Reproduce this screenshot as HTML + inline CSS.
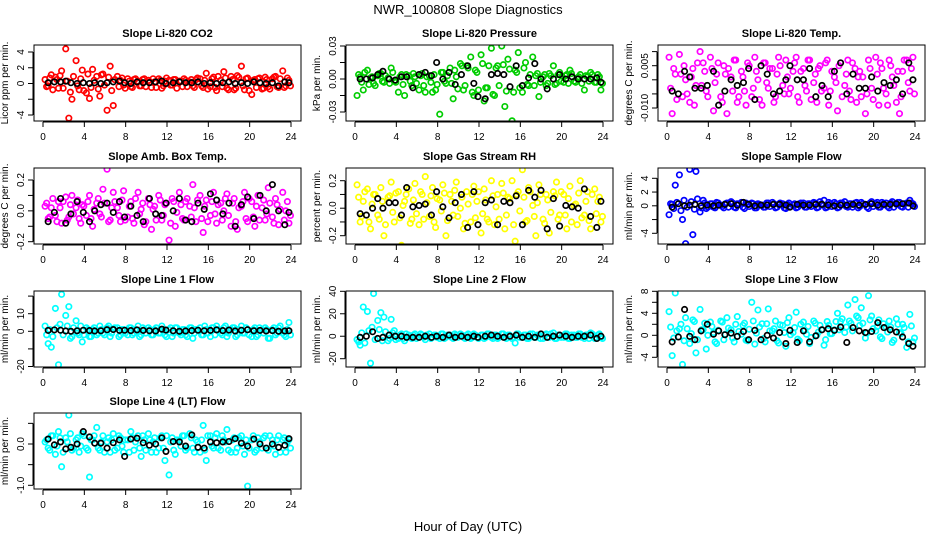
<!DOCTYPE html>
<html><head><meta charset="utf-8"><style>
body{margin:0;background:#fff}
svg{display:block;font-family:"Liberation Sans",sans-serif}
</style></head><body>
<svg id="chart" width="936" height="540" viewBox="0 0 936 540">
<text x="468" y="14" text-anchor="middle" font-size="13">NWR_100808  Slope Diagnostics</text>
<text x="468" y="531" text-anchor="middle" font-size="13">Hour of Day (UTC)</text>
</svg>
<script>
const xTicks = [0,4,8,12,16,20,24];
const colorTimes = [0.2,0.5,0.8,1.2,1.5,1.8,2.2,2.5,2.8,3.2,3.5,3.8,4.2,4.5,4.8,5.2,5.5,5.8,6.2,6.5,6.8,7.2,7.5,7.8,8.2,8.5,8.8,9.2,9.5,9.8,10.2,10.5,10.8,11.2,11.5,11.8,12.2,12.5,12.8,13.2,13.5,13.8,14.2,14.5,14.8,15.2,15.5,15.8,16.2,16.5,16.8,17.2,17.5,17.8,18.2,18.5,18.8,19.2,19.5,19.8,20.2,20.5,20.8,21.2,21.5,21.8,22.2,22.5,22.8,23.2,23.5,23.8];
const bandTimes = [0.35,0.65,0.95,1.35,1.65,1.95,2.35,2.65,2.95,3.35,3.65,3.95,4.35,4.65,4.95,5.35,5.65,5.95,6.35,6.65,6.95,7.35,7.65,7.95,8.35,8.65,8.95,9.35,9.65,9.95,10.35,10.65,10.95,11.35,11.65,11.95,12.35,12.65,12.95,13.35,13.65,13.95,14.35,14.65,14.95,15.35,15.65,15.95,16.35,16.65,16.95,17.35,17.65,17.95,18.35,18.65,18.95,19.35,19.65,19.95,20.35,20.65,20.95,21.35,21.65,21.95,22.35,22.65,22.95,23.35,23.65,23.95];
const blackTimes = [0.5,1.1,1.7,2.2,2.7,3.3,3.9,4.5,5.0,5.6,6.2,6.8,7.4,7.9,8.5,9.1,9.7,10.3,10.9,11.5,11.9,12.6,13.2,13.8,14.4,15.0,15.6,16.2,16.8,17.4,18.0,18.6,19.2,19.8,20.4,21.0,21.6,22.2,22.8,23.4,23.8];

const co2Vals = [0.5,-0.3,1.1,0.8,-0.6,1.6,4.4,-4.4,-2.0,2.9,-0.8,1.7,-1.2,-1.9,1.8,0.9,-1.6,1.2,-3.4,2.2,-2.8,0.9,0.4,-0.2,0.6,-0.4,0.5,0.3,-0.3,0.6,0.4,-0.5,0.2,0.6,-0.6,0.3,0.4,-0.2,0.5,0.3,-0.4,0.4,0.2,-0.3,0.5,0.6,-0.5,1.3,-0.4,0.8,-0.9,0.4,1.5,-0.6,0.9,-0.8,1.0,2.2,-0.8,0.7,-1.4,0.5,0.6,-0.7,0.8,-0.4,0.6,0.9,-0.5,1.6,-0.3,0.4];
const co2Band = [-0.4,0.7,-0.8,0.5,1.0,-0.6,0.3,-1.1,0.9,-0.3,0.6,-0.9,1.2,-0.5,0.4,-0.7,1.1,-0.2,0.8,-0.9,0.5,-0.4,0.7,-0.6,0.3,-0.5,0.6,-0.3,0.5,-0.4,0.2,0.6,-0.5,0.4,-0.3,0.7,-0.2,0.5,-0.6,0.3,0.6,-0.4,0.5,-0.5,0.7,-0.3,0.4,-0.7,0.6,-0.5,0.9,-0.4,0.7,-0.8,0.5,-0.6,0.8,-0.3,0.6,-0.9,0.4,-0.5,0.7,-0.6,0.5,-0.7,0.8,-0.4,0.6,-0.5,0.7,-0.3];
const co2Avg = [0.1,0.2,0.2,0.3,0.1,0.0,0.1,0.0,0.1,0.0,0.1,0.2,0.3,0.1,0.0,0.2,0.1,0.1,0.2,0.3,0.0,0.1,0.2,0.1,0.1,0.2,0.0,0.1,0.0,0.1,0.2,0.0,0.1,0.0,0.2,0.1,0.0,0.1,-0.3,0.2,0.1];
const presVals = [-0.015,0.002,-0.01,0.008,0.001,-0.004,0.003,0.005,-0.003,0.001,0.01,-0.002,-0.012,0.004,-0.015,0.003,-0.006,0.002,-0.01,0.005,-0.012,0.003,-0.012,-0.01,-0.032,0.006,-0.004,0.01,-0.018,0.002,0.014,-0.01,0.012,0.02,-0.015,0.006,0.022,-0.02,-0.008,0.028,-0.015,0.012,0.03,-0.025,0.018,-0.038,0.008,0.024,-0.012,0.015,-0.006,0.02,0.003,-0.016,0.002,-0.006,0.005,0.012,-0.004,0.006,-0.003,0.004,0.008,-0.002,0.001,0.004,-0.01,0.002,0.006,-0.003,0.004,-0.01];
const presBand = [0.004,-0.003,0.006,-0.005,0.002,-0.006,0.005,-0.002,0.003,-0.004,0.006,-0.003,0.002,-0.005,0.004,-0.002,0.005,-0.004,0.003,-0.006,0.002,-0.003,0.004,-0.005,0.006,-0.002,0.003,-0.004,0.008,-0.009,0.012,-0.006,0.01,-0.012,0.008,-0.01,0.014,-0.008,0.012,-0.014,0.01,-0.006,0.013,-0.011,0.009,-0.012,0.006,-0.008,0.01,-0.005,0.004,-0.006,0.005,-0.003,0.004,-0.004,0.003,-0.005,0.004,-0.002,0.003,-0.004,0.005,-0.003,0.002,-0.004,0.003,-0.002,0.004,-0.003,0.002,-0.004];
const presAvg = [0.0,0.0,0.001,0.004,0.007,0.0,-0.001,0.002,0.002,-0.008,0.004,0.006,0.003,0.015,0.0,0.006,-0.005,0.004,0.012,-0.004,-0.016,-0.018,0.004,0.005,0.004,-0.007,0.012,-0.006,0.001,0.014,0.0,-0.009,0.0,0.004,0.0,0.002,0.0,0.0,0.0,0.001,-0.003];
const tempVals = [0.008,-0.012,0.002,0.009,-0.006,0.0,-0.008,0.004,-0.002,0.01,0.006,-0.004,0.008,-0.011,0.002,-0.006,0.005,-0.012,0.001,0.007,-0.008,0.003,-0.004,0.006,-0.006,0.008,0.0,-0.009,0.006,-0.003,0.004,-0.006,0.008,-0.002,0.007,-0.005,0.003,0.008,-0.008,0.004,-0.004,0.007,-0.001,-0.008,0.005,-0.003,0.007,-0.004,0.001,-0.011,0.006,-0.002,0.007,-0.007,0.004,0.001,-0.006,-0.012,0.007,-0.003,0.008,-0.009,0.004,-0.005,0.007,0.001,-0.008,-0.012,0.003,0.007,-0.004,0.008];
const tempBand = [-0.003,0.004,-0.007,0.002,0.005,-0.005,0.001,-0.009,0.006,-0.002,0.003,-0.006,0.004,-0.001,0.006,-0.008,0.002,0.004,-0.004,0.007,-0.006,0.001,-0.009,0.005,-0.003,0.003,-0.007,0.006,-0.001,0.004,-0.008,0.002,0.005,-0.005,0.001,-0.003,0.006,-0.006,0.003,-0.002,0.007,-0.007,0.002,0.004,-0.004,0.006,-0.009,0.003,-0.001,0.005,-0.006,0.002,-0.004,0.006,-0.008,0.003,0.001,-0.005,0.004,-0.007,0.002,0.006,-0.003,-0.009,0.005,-0.002,0.003,-0.006,0.007,-0.001,0.004,-0.005];
const tempAvg = [-0.004,-0.005,0.003,0.001,-0.003,-0.003,-0.002,0.003,-0.009,-0.004,0.0,-0.002,-0.001,0.004,-0.007,0.005,0.002,-0.005,-0.004,0.0,0.005,0.0,0.0,0.004,-0.006,-0.002,-0.006,0.003,0.006,-0.005,0.002,-0.003,-0.003,0.001,-0.004,-0.001,-0.002,0.0,-0.005,0.006,0.0];
const ambVals = [0.03,-0.05,0.02,-0.03,0.06,-0.08,0.09,-0.04,0.1,0.02,-0.05,0.04,-0.03,0.1,-0.1,0.05,-0.02,0.14,0.27,-0.06,0.12,0.02,-0.07,0.13,-0.04,0.06,-0.08,0.12,0.01,-0.09,0.08,-0.12,0.03,0.1,-0.06,0.04,-0.19,0.08,-0.1,0.12,-0.05,0.06,0.03,0.17,-0.07,0.1,-0.14,0.07,-0.03,0.12,-0.08,0.05,0.0,0.11,-0.1,0.08,-0.12,0.03,0.12,-0.07,0.06,-0.1,0.1,0.02,-0.06,0.15,-0.04,0.08,-0.09,0.12,0.0,-0.08];
const ambBand = [0.05,-0.04,0.08,-0.07,0.02,0.06,-0.06,0.04,-0.02,0.07,-0.08,0.03,0.06,-0.05,0.01,0.08,-0.04,0.05,-0.07,0.02,0.06,-0.03,0.07,-0.06,0.03,-0.05,0.08,-0.02,0.05,-0.07,0.04,0.01,-0.06,0.07,-0.03,0.05,-0.08,0.06,-0.01,0.04,-0.06,0.08,-0.04,0.02,0.07,-0.05,0.03,-0.07,0.06,-0.02,0.04,-0.06,0.08,-0.03,0.05,-0.07,0.02,0.06,-0.05,0.08,-0.04,0.03,-0.06,0.07,-0.02,0.05,-0.08,0.04,0.01,-0.06,0.06,-0.03];
const ambAvg = [-0.07,-0.01,0.08,-0.08,-0.02,0.06,-0.01,-0.07,0.0,0.04,0.05,-0.01,0.06,-0.04,0.03,-0.03,-0.07,0.08,-0.02,-0.03,0.05,0.0,0.08,-0.06,-0.07,0.05,0.01,0.11,0.07,-0.02,0.05,-0.1,0.04,0.09,-0.05,0.1,0.0,0.17,0.0,-0.09,-0.01];
const rhVals = [0.17,-0.1,0.05,0.14,-0.15,0.1,-0.05,0.15,-0.2,0.08,0.19,-0.1,0.12,-0.27,0.05,0.14,-0.08,0.18,-0.12,0.1,0.23,-0.06,0.15,-0.14,0.06,0.17,-0.2,0.1,-0.05,0.19,0.0,-0.15,0.12,-0.1,0.16,0.05,-0.18,0.14,-0.08,0.2,-0.12,0.1,0.18,-0.15,0.08,0.2,-0.24,0.12,0.28,-0.1,0.15,0.02,-0.2,0.17,-0.08,0.1,-0.18,0.12,0.19,-0.05,0.1,-0.15,0.16,0.02,-0.12,0.2,-0.05,0.12,-0.15,0.14,0.05,-0.1];
const rhBand = [0.08,-0.06,0.12,-0.1,0.03,0.1,-0.08,0.05,-0.12,0.09,-0.03,0.11,-0.07,0.02,0.1,-0.11,0.06,-0.04,0.12,-0.08,0.04,0.09,-0.1,0.07,-0.02,0.11,-0.09,0.05,0.13,-0.06,0.08,-0.11,0.03,0.1,-0.07,0.12,-0.04,0.06,-0.1,0.09,0.01,-0.08,0.11,-0.05,0.07,-0.12,0.1,-0.02,0.08,-0.09,0.12,-0.06,0.04,0.1,-0.11,0.06,-0.03,0.09,-0.08,0.12,-0.05,0.07,-0.1,0.03,0.11,-0.07,0.05,-0.09,0.1,-0.04,0.08,-0.06];
const rhAvg = [-0.04,-0.05,0.0,0.07,0.0,0.04,0.04,-0.05,0.15,0.01,0.02,0.03,-0.05,0.12,0.01,-0.07,0.04,0.1,-0.14,0.12,-0.12,0.04,0.06,-0.12,0.05,0.04,0.09,-0.12,0.13,0.08,0.13,-0.15,0.07,-0.13,0.02,0.01,0.0,0.14,-0.06,-0.14,0.05];
const sampVals = [-1.3,0.2,3.0,4.5,-2.0,-5.5,5.3,-4.2,5.0,-0.9,0.8,-0.4,0.3,-0.2,0.5,0.1,-0.3,0.4,0.6,-0.2,0.3,0.5,-0.4,0.2,0.4,-0.3,0.3,0.1,-0.2,0.4,0.5,-0.3,0.2,0.3,-0.4,0.4,0.1,-0.3,0.3,0.4,-0.2,0.3,0.5,-0.3,0.6,0.8,-0.2,0.3,0.5,-0.3,0.4,0.6,-0.2,0.3,0.4,-0.3,0.5,0.2,-0.4,0.6,0.3,-0.2,0.5,0.4,-0.3,0.6,0.2,0.5,-0.2,0.4,0.8,0.3];
const sampBand = [0.3,-0.4,0.5,-0.7,0.8,-0.2,0.6,-0.5,1.0,-0.3,0.4,-0.2,0.3,-0.3,0.4,-0.1,0.3,-0.2,0.4,-0.3,0.2,-0.2,0.4,-0.1,0.3,-0.3,0.2,-0.2,0.4,-0.1,0.3,-0.2,0.4,-0.3,0.2,-0.1,0.3,-0.2,0.4,-0.2,0.3,-0.1,0.4,-0.2,0.3,-0.3,0.5,-0.1,0.3,-0.2,0.4,-0.1,0.3,-0.2,0.5,-0.1,0.3,-0.2,0.4,-0.1,0.5,-0.2,0.3,-0.1,0.4,-0.2,0.5,-0.1,0.3,-0.2,0.4,-0.1];
const sampAvg = [-0.2,0.3,0.0,0.1,0.2,0.0,0.1,0.0,0.1,0.2,0.3,0.1,0.5,0.2,0.0,0.1,0.1,0.2,0.2,0.1,-0.2,0.2,0.1,0.1,0.2,0.2,0.1,0.0,0.1,0.1,0.2,0.1,0.2,0.3,0.1,0.2,0.2,0.3,0.3,0.4,0.0];
const l1Vals = [3,-7,-9,13,-19,21,9,14,-3,6,-2,-6,2,-3,1,-2,3,-1,2,-3,1,2,-2,1,-2,2,-1,3,-2,1,2,-2,1,-1,3,-2,1,-3,2,-1,1,-2,2,-4,1,2,-2,1,-3,2,3,-1,2,-3,1,2,-2,3,-1,1,-3,2,-2,1,2,-4,1,-2,2,-1,-3,5];
const l1Band = [-2,1,-3,2,4,-2,3,-4,2,-1,3,-2,1,-3,2,-1,1,-2,3,-1,2,-3,1,-1,2,-2,1,-3,2,-1,1,-2,2,-1,1,-3,2,-1,2,-2,1,-3,2,-1,1,-2,3,-1,2,-2,1,-2,3,-1,2,-3,1,-1,2,-2,1,-3,2,-1,1,-4,2,-1,3,-2,1,-2];
const l1Avg = [0.5,0.8,0.6,0.2,0.0,0.3,0.6,0.4,0.2,0.3,0.9,1.0,0.5,0.6,0.4,0.8,0.5,0.3,0.2,1.2,0.7,0.3,0.0,0.2,0.4,0.6,0.3,0.5,0.8,0.4,0.7,0.2,0.6,0.9,0.3,0.5,0.2,0.4,0.0,0.2,0.3];
const l2Vals = [-3,-8,26,22,-24,38,14,21,17,-4,15,5,-2,2,-4,1,-2,2,-1,1,-3,2,-1,1,-2,2,-1,1,-2,1,2,-1,1,-2,2,-1,1,-2,2,-1,1,-2,2,-1,1,-2,-6,2,-1,1,-2,2,-1,1,-2,2,-1,3,-2,1,-1,2,-2,1,-1,2,-2,1,3,-2,1,-1];
const l2Band = [-5,3,-6,5,8,-3,6,-4,4,-2,3,-3,1,-2,2,-1,1,-2,2,-1,1,-2,1,-1,2,-2,1,-1,2,-1,1,-2,2,-1,1,-2,1,-1,2,-2,1,-1,2,-2,1,-1,2,-1,1,-2,2,-1,1,-2,1,-1,2,-2,1,-1,2,-2,1,-1,2,-1,1,-2,2,-1,2,-2];
const l2Avg = [-1,0,4,-2,-1,1,0,0,-1,-1,-1,0,-1,0,-1,1,-1,0,-1,0,-1,0,1,0,-1,0,1,-1,0,-1,2,-1,0,1,0,-1,0,0,1,-2,0];
const l3Vals = [4.3,-3.7,7.7,1.2,-5.3,3.2,-1.5,2.8,-3.2,4.7,1.0,-2.5,2.4,0.5,-1.5,2.6,-0.8,3.2,1.0,-1.2,3.4,0.2,2.2,-1.0,6.0,-1.6,4.6,2.1,-1.2,4.8,0.8,2.6,-1.4,1.8,-2.0,3.2,0.5,4.2,-1.0,2.4,0.2,-1.5,2.6,0.0,1.8,-1.8,2.5,0.3,1.0,4.0,2.5,0.5,5.5,2.2,6.5,3.2,5.0,-0.5,7.2,3.5,0.8,2.8,-0.6,1.5,2.6,-1.3,3.0,0.5,2.0,-2.2,3.8,-1.2];
const l3Band = [1.5,-0.5,0.8,2.0,-1.0,1.2,0.3,2.5,-0.8,1.0,2.2,0.0,1.6,-1.2,0.9,2.4,0.2,1.3,-0.5,2.0,0.7,1.8,-0.9,1.1,2.6,0.4,1.5,-0.6,2.1,0.8,1.2,-1.0,1.9,0.5,2.3,0.1,1.4,-0.7,2.0,0.9,1.6,-0.4,2.2,0.6,1.0,-0.8,1.8,0.3,2.5,1.0,3.0,1.5,2.6,0.8,3.5,1.8,2.2,0.4,2.8,1.2,1.6,-0.3,2.1,0.6,1.5,-0.9,2.0,0.3,1.4,-1.2,1.7,-0.5];
const l3Avg = [-1.2,-0.3,4.7,-0.2,-0.8,0.8,2.0,0.2,0.8,0.1,0.4,-0.2,0.7,-0.8,0.9,-0.8,0.0,-0.5,0.5,-1.5,0.9,-1.3,0.8,-1.2,-0.1,1.0,1.2,0.9,1.5,-1.3,1.4,0.8,0.5,0.7,2.3,1.4,1.0,0.6,-0.3,-1.5,-2.0];
const l4Vals = [0.05,-0.1,0.2,-0.25,0.3,-0.55,0.15,0.7,-0.15,0.1,-0.2,0.25,-0.1,-0.8,0.1,0.4,-0.15,0.2,0.05,-0.2,0.25,-0.1,0.15,-0.2,0.1,0.3,-0.15,0.2,-0.3,0.1,0.25,-0.2,0.15,-0.1,0.2,-0.4,-0.75,0.15,-0.25,0.1,0.2,-0.15,0.25,-0.1,0.1,-0.2,0.45,-0.4,0.2,-0.1,0.25,-0.15,0.1,0.35,-0.2,0.15,-0.1,0.2,-0.25,-1.02,0.1,-0.2,0.15,-0.1,0.2,-0.15,0.1,-0.25,0.2,0.1,-0.2,0.1];
const l4Band = [0.1,-0.15,0.2,-0.05,0.15,-0.2,0.05,0.25,-0.1,0.15,-0.05,0.2,-0.15,0.1,0.2,-0.1,0.05,-0.2,0.15,0.1,-0.15,0.2,-0.05,0.1,-0.2,0.15,0.05,-0.1,0.2,-0.15,0.1,0.05,-0.2,0.15,-0.1,0.2,0.05,-0.15,0.1,-0.05,0.2,-0.1,0.15,-0.2,0.05,0.1,-0.15,0.2,-0.05,0.15,-0.1,0.2,0.05,-0.15,0.1,-0.2,0.15,-0.05,0.1,-0.1,0.2,-0.15,0.05,0.15,-0.1,0.2,-0.05,0.1,-0.2,0.15,0.05,-0.1];
const l4Avg = [0.12,-0.02,0.05,-0.12,-0.08,0.0,0.3,0.17,0.02,0.02,-0.1,0.03,0.1,-0.3,0.12,0.14,0.03,-0.03,0.0,0.15,-0.18,0.06,0.05,-0.05,0.22,-0.08,-0.1,0.05,0.03,0.05,0.06,0.13,0.02,-0.05,0.12,0.0,-0.1,0.0,-0.08,-0.03,0.13];

const co2Ticks=[-4,-2,0,2,4], co2Labels=["-4","","0","2","4"];
const presTicks=[-0.03,-0.015,0,0.015,0.03], presLabels=["-0.03","","0.00","","0.03"];
const tempTicks=[-0.01,-0.005,0,0.005,0.01], tempLabels=["-0.010","","","0.005",""];
const ambTicks=[-0.2,-0.1,0,0.1,0.2], ambLabels=["-0.2","","0.0","","0.2"];
const rhTicks=[-0.2,-0.1,0,0.1,0.2], rhLabels=["-0.2","","0.0","","0.2"];
const sampTicks=[-4,-2,0,2,4], sampLabels=["-4","","0","2","4"];
const l1Ticks=[-20,-10,0,10,20], l1Labels=["-20","","0","10",""];
const l2Ticks=[-20,0,20,40], l2Labels=["-20","0","20","40"];
const l3Ticks=[-4,-2,0,2,4,6,8], l3Labels=["-4","","0","","4","","8"];
const l4Ticks=[-1,-0.5,0,0.5], l4Labels=["-1.0","","0.0",""];

const panels = [
 {name:"co2",title:"Slope Li-820 CO2",unit:"Licor ppm per min.",col:0,row:0,color:"#ff0000",vals:co2Vals,band:co2Band,avg:co2Avg,ticks:co2Ticks,labels:co2Labels,v1:4,p1:52,v2:-4,p2:115},
 {name:"pressure",title:"Slope Li-820 Pressure",unit:"kPa per min.",col:1,row:0,color:"#00cd00",vals:presVals,band:presBand,avg:presAvg,ticks:presTicks,labels:presLabels,v1:0.03,p1:46,v2:-0.03,p2:112},
 {name:"li-temp",title:"Slope Li-820 Temp.",unit:"degrees C per min.",col:2,row:0,color:"#ff00ff",vals:tempVals,band:tempBand,avg:tempAvg,ticks:tempTicks,labels:tempLabels,v1:0.005,p1:65.7,v2:-0.01,p2:108},
 {name:"amb-temp",title:"Slope Amb. Box Temp.",unit:"degrees C per min.",col:0,row:1,color:"#ff00ff",vals:ambVals,band:ambBand,avg:ambAvg,ticks:ambTicks,labels:ambLabels,v1:0.2,p1:180,v2:-0.2,p2:241.7},
 {name:"gas-rh",title:"Slope Gas Stream RH",unit:"percent per min.",col:1,row:1,color:"#ffff00",vals:rhVals,band:rhBand,avg:rhAvg,ticks:rhTicks,labels:rhLabels,v1:0.2,p1:180.7,v2:-0.2,p2:235.7},
 {name:"sample-flow",title:"Slope Sample Flow",unit:"ml/min per min.",col:2,row:1,color:"#0000ff",vals:sampVals,band:sampBand,avg:sampAvg,ticks:sampTicks,labels:sampLabels,v1:4,p1:178.3,v2:-4,p2:233.3},
 {name:"line1-flow",title:"Slope Line 1  Flow",unit:"ml/min per min.",col:0,row:2,color:"#00ffff",vals:l1Vals,band:l1Band,avg:l1Avg,ticks:l1Ticks,labels:l1Labels,v1:10,p1:313.7,v2:0,p2:331.3},
 {name:"line2-flow",title:"Slope Line 2  Flow",unit:"ml/min per min.",col:1,row:2,color:"#00ffff",vals:l2Vals,band:l2Band,avg:l2Avg,ticks:l2Ticks,labels:l2Labels,v1:40,p1:291.3,v2:-20,p2:358.7},
 {name:"line3-flow",title:"Slope Line 3  Flow",unit:"ml/min per min.",col:2,row:2,color:"#00ffff",vals:l3Vals,band:l3Band,avg:l3Avg,ticks:l3Ticks,labels:l3Labels,v1:8,p1:291.3,v2:-4,p2:357.3},
 {name:"line4-flow",title:"Slope Line 4 (LT) Flow",unit:"ml/min per min.",col:0,row:3,color:"#00ffff",vals:l4Vals,band:l4Band,avg:l4Avg,ticks:l4Ticks,labels:l4Labels,v1:0,p1:444,v2:-1,p2:485.3}
];

const NS="http://www.w3.org/2000/svg";
const svg=document.getElementById("chart");
const lefts=[34,346,658], tops=[45,168,291,413], W=267, H=76;
function mk(tag,attrs,parent){const e=document.createElementNS(NS,tag);for(const k in attrs)e.setAttribute(k,attrs[k]);parent.appendChild(e);return e;}

panels.forEach(p=>{
  const L=lefts[p.col], T=tops[p.row], B=T+H;
  const xs=v=>L+9+v*(248/24);
  const ys=v=>p.p1+(v-p.v1)*(p.p2-p.p1)/(p.v2-p.v1);
  const g=mk("g",{},svg);
  
  
  const t=mk("text",{x:L+W/2,y:T-8,"text-anchor":"middle","font-size":"11","font-weight":"bold"},g);
  t.textContent=p.title;
  
  
  const ux=L-26, uy=T+H/2;
  const u=mk("text",{x:ux,y:uy,"text-anchor":"middle","font-size":"10",transform:`rotate(-90 ${ux} ${uy})`},g);
  u.textContent=p.unit;
  
  
  const cp=mk("clipPath",{id:"c-"+p.name},g);
  mk("rect",{x:L,y:T,width:W,height:H},cp);
  const pts=mk("g",{"clip-path":`url(#c-${p.name})`,fill:"none"},g);
  
  
  const nb=Math.min(p.band.length,bandTimes.length);
  for(let i=0;i<nb;i++){
    const c=mk("circle",{cx:xs(bandTimes[i]),cy:ys(p.band[i]),r:2.7,stroke:p.color,"stroke-width":1.7},pts);
    
    
  }
  const nv=Math.min(p.vals.length,colorTimes.length);
  for(let i=0;i<nv;i++){
    const c=mk("circle",{cx:xs(colorTimes[i]),cy:ys(p.vals[i]),r:2.7,stroke:p.color,"stroke-width":1.7},pts);
    
    
  }
  const na=Math.min(p.avg.length,blackTimes.length);
  for(let i=0;i<na;i++){
    const c=mk("circle",{cx:xs(blackTimes[i]),cy:ys(p.avg[i]),r:2.7,stroke:"#000","stroke-width":1.7},pts);
    
    
  }
  const box=mk("rect",{x:L,y:T,width:W,height:H,fill:"none",stroke:"#000","stroke-width":1},g);
  
  
  const xa=mk("g",{stroke:"#000","stroke-width":1},g);
  
  
  mk("line",{x1:xs(xTicks[0]),x2:xs(xTicks[xTicks.length-1]),y1:B+1,y2:B+1},xa);
  xTicks.forEach(v=>{
    mk("line",{x1:xs(v),x2:xs(v),y1:B+1,y2:B+6},xa);
    const l=mk("text",{x:xs(v),y:B+19,"text-anchor":"middle","font-size":"10",stroke:"none"},g);
    l.textContent=String(v);
    
    
  });
  const ya=mk("g",{stroke:"#000","stroke-width":1},g);
  
  
  const ty=p.ticks.map(ys);
  mk("line",{x1:L-1,x2:L-1,y1:Math.min(...ty),y2:Math.max(...ty)},ya);
  p.ticks.forEach((v,i)=>{
    const y=ys(v);
    mk("line",{x1:L-6,x2:L-1,y1:y,y2:y},ya);
    if(p.labels[i]){
      const lx=L-10;
      const l=mk("text",{x:lx,y:y,"text-anchor":"middle","font-size":"10",transform:`rotate(-90 ${lx} ${y})`},g);
      l.textContent=p.labels[i];
      
      
    }
  });
});
</script>
</body></html>
